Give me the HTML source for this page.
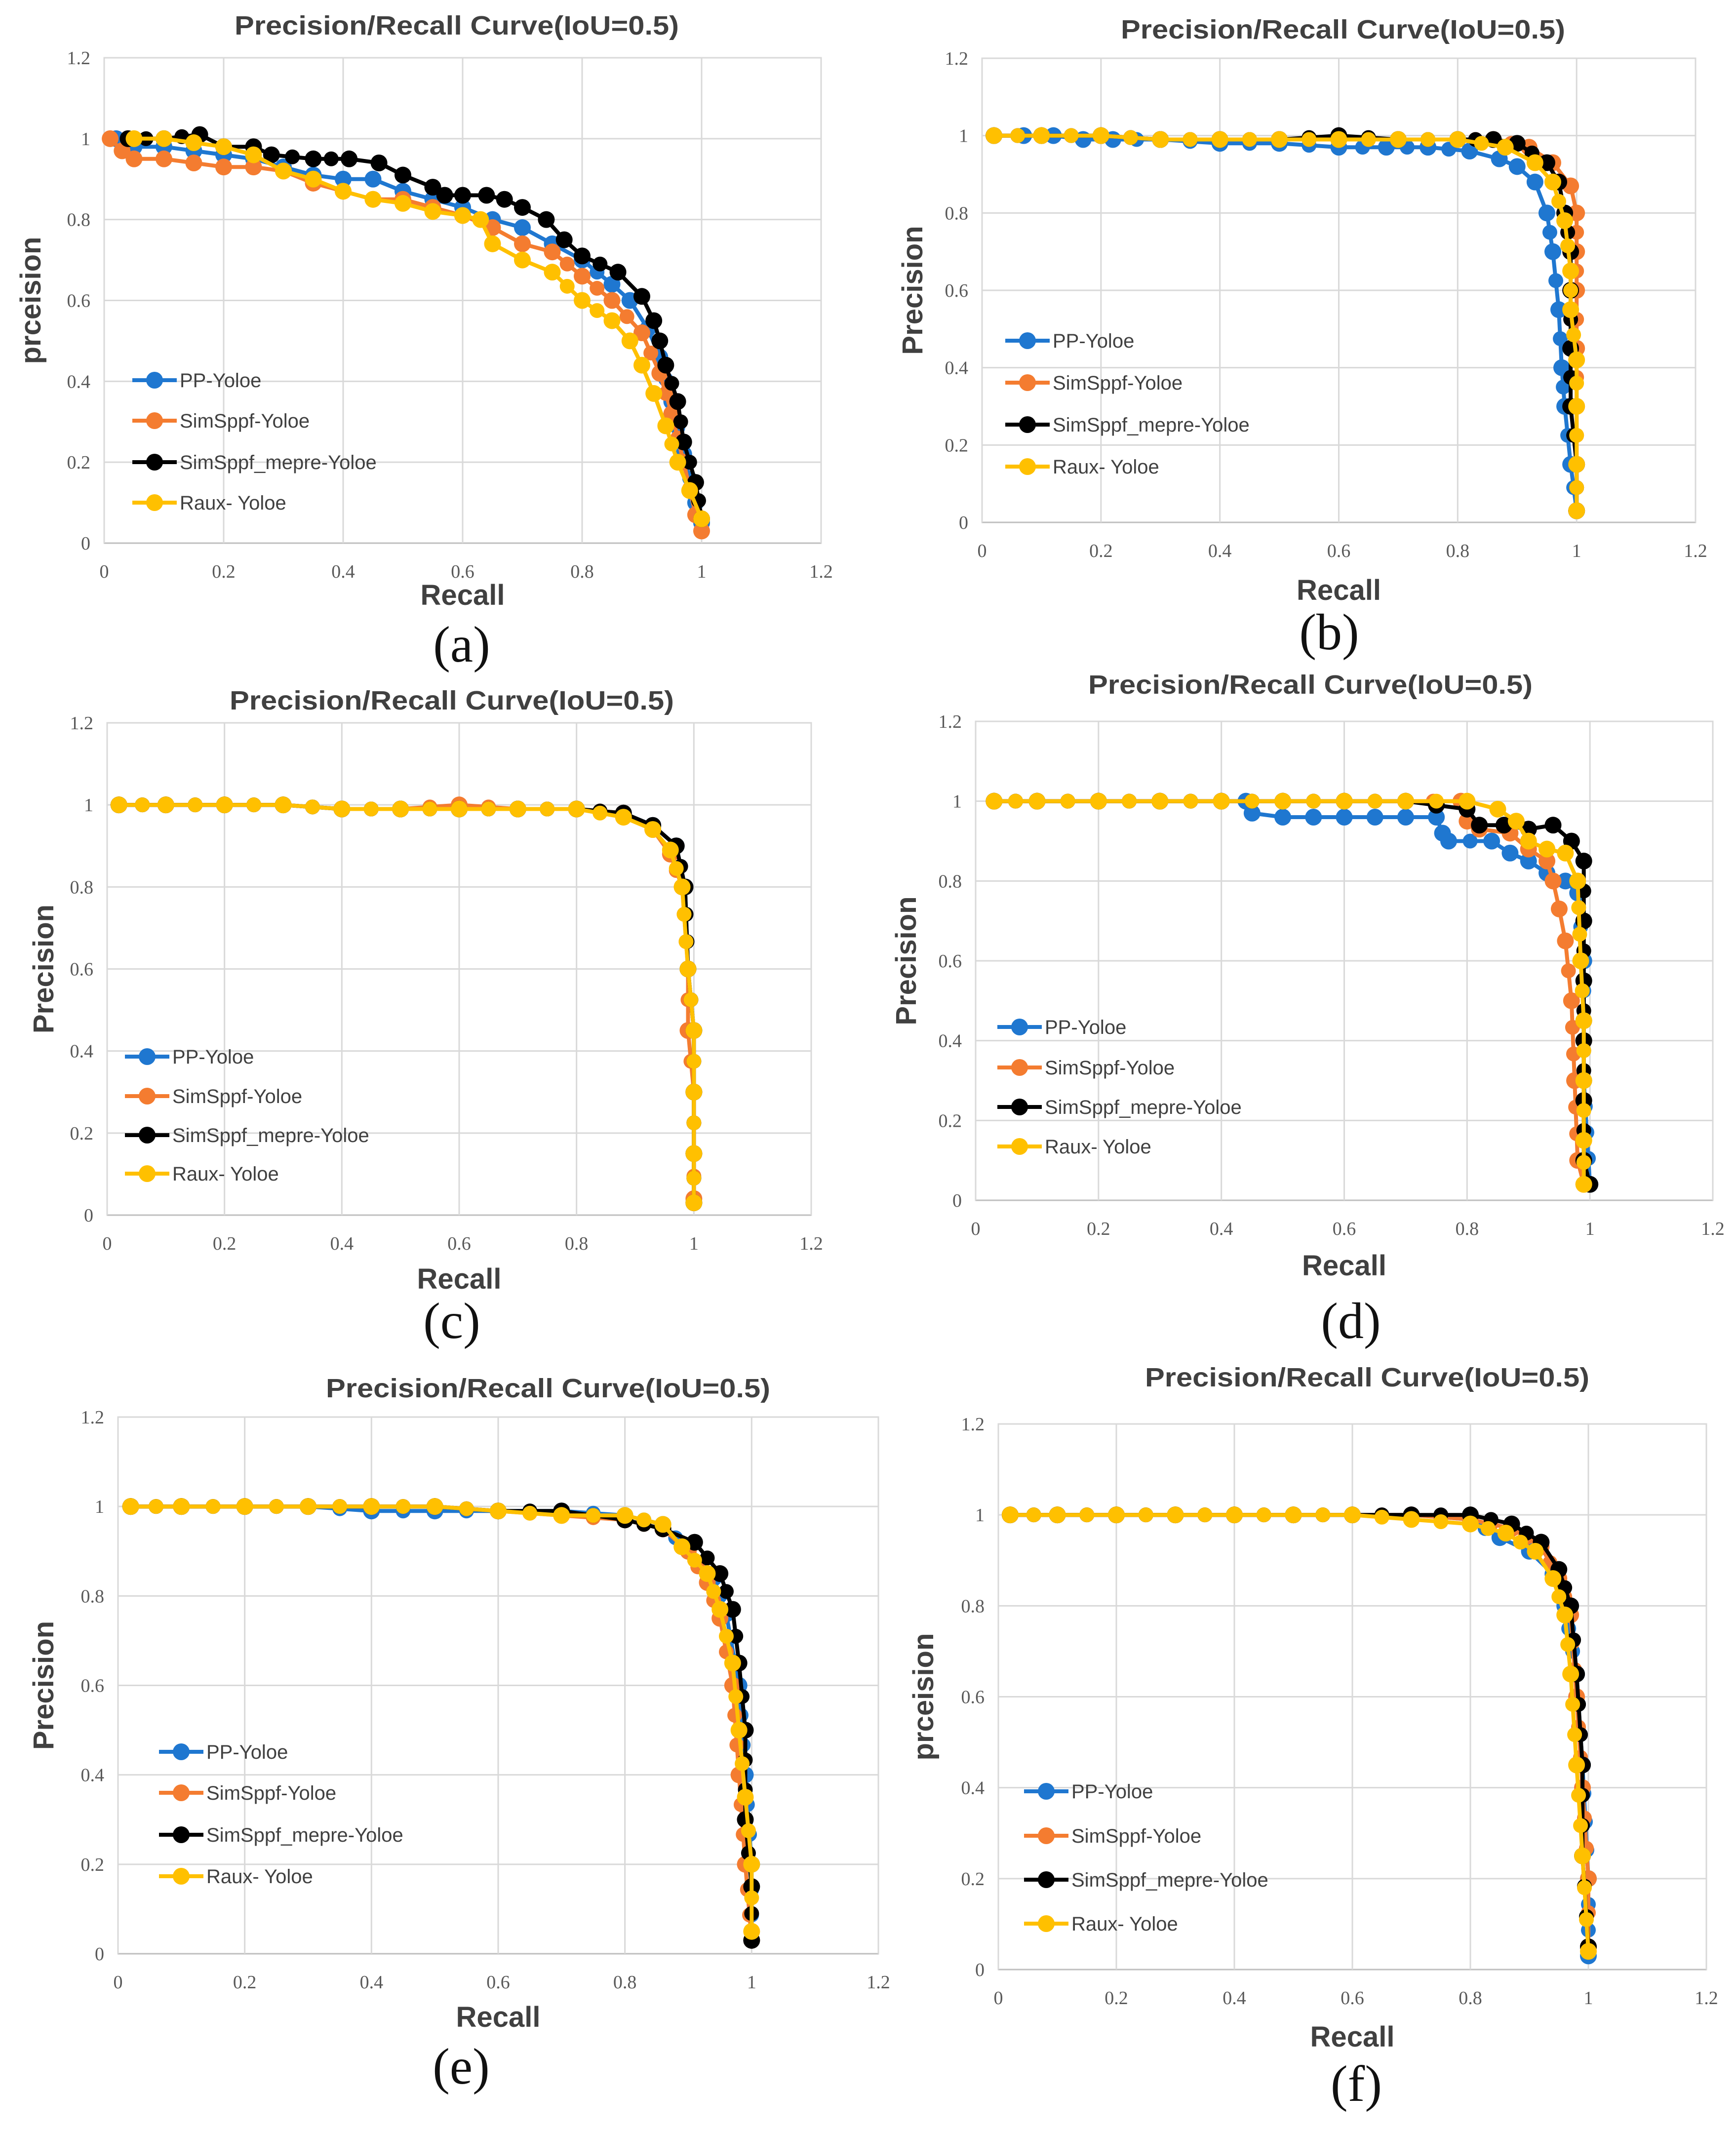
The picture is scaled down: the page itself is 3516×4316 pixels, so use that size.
<!DOCTYPE html>
<html><head><meta charset="utf-8">
<style>
html,body{margin:0;padding:0;background:#fff;}
svg{display:block;}
</style></head>
<body>
<svg id="fig" width="3516" height="4316" viewBox="0 0 3516 4316" xmlns="http://www.w3.org/2000/svg" font-family="Liberation Sans, sans-serif"></svg>
<script>
// ---- data (recall, precision) per panel & series ----
const xTicks = [0, 0.2, 0.4, 0.6, 0.8, 1, 1.2];
const yTicks = [0, 0.2, 0.4, 0.6, 0.8, 1, 1.2];
const seriesNames = ["PP-Yoloe", "SimSppf-Yoloe", "SimSppf_mepre-Yoloe", "Raux- Yoloe"];
const seriesColors = ["#1f77d0", "#f47c30", "#000000", "#ffc000"];

const a_pp = [[0.02,1],[0.05,0.98],[0.1,0.98],[0.15,0.97],[0.2,0.96],[0.25,0.95],[0.3,0.93],[0.35,0.91],[0.4,0.9],[0.45,0.9],[0.5,0.87],[0.55,0.85],[0.6,0.83],[0.65,0.8],[0.7,0.78],[0.75,0.74],[0.8,0.7],[0.85,0.64],[0.88,0.6],[0.91,0.53],[0.93,0.46],[0.95,0.35],[0.97,0.22],[0.99,0.1],[1.0,0.05]];
const a_sim = [[0.01,1],[0.03,0.97],[0.05,0.95],[0.1,0.95],[0.15,0.94],[0.2,0.93],[0.25,0.93],[0.3,0.92],[0.35,0.89],[0.4,0.87],[0.45,0.85],[0.5,0.85],[0.55,0.83],[0.6,0.81],[0.65,0.78],[0.7,0.74],[0.75,0.72],[0.8,0.66],[0.85,0.6],[0.9,0.52],[0.93,0.42],[0.95,0.32],[0.97,0.2],[0.99,0.07],[1.0,0.03]];
const a_mep = [[0.04,1],[0.1,1],[0.16,1.01],[0.2,0.98],[0.25,0.98],[0.28,0.96],[0.35,0.95],[0.41,0.95],[0.46,0.94],[0.5,0.91],[0.55,0.88],[0.57,0.86],[0.6,0.86],[0.64,0.86],[0.67,0.85],[0.7,0.83],[0.74,0.8],[0.77,0.75],[0.8,0.71],[0.86,0.67],[0.9,0.61],[0.92,0.55],[0.93,0.5],[0.94,0.44],[0.96,0.35],[0.97,0.25],[0.99,0.15],[1.0,0.06]];
const a_raux = [[0.05,1],[0.1,1],[0.15,0.99],[0.2,0.98],[0.25,0.96],[0.3,0.92],[0.35,0.9],[0.4,0.87],[0.45,0.85],[0.5,0.84],[0.55,0.82],[0.6,0.81],[0.63,0.8],[0.65,0.74],[0.7,0.7],[0.75,0.67],[0.8,0.6],[0.85,0.55],[0.88,0.5],[0.9,0.44],[0.92,0.37],[0.94,0.29],[0.96,0.2],[0.98,0.13],[1.0,0.06]];

const b_pp = [[0.02,1],[0.07,1],[0.12,1],[0.17,0.99],[0.22,0.99],[0.3,0.99],[0.4,0.98],[0.5,0.98],[0.6,0.97],[0.68,0.97],[0.75,0.97],[0.82,0.96],[0.87,0.94],[0.9,0.92],[0.93,0.88],[0.95,0.8],[0.96,0.7],[0.97,0.55],[0.975,0.4],[0.98,0.3],[0.99,0.15],[1.0,0.03]];
const b_sim = [[0.02,1],[0.1,1],[0.2,1],[0.3,0.99],[0.4,0.99],[0.5,0.99],[0.6,0.99],[0.7,0.99],[0.8,0.99],[0.86,0.99],[0.92,0.97],[0.96,0.93],[0.99,0.87],[1.0,0.8],[1.0,0.7],[1.0,0.6],[1.0,0.45],[1.0,0.3],[1.0,0.15],[1.0,0.03]];
const b_mep = [[0.02,1],[0.1,1],[0.2,1],[0.3,0.99],[0.4,0.99],[0.5,0.99],[0.6,1],[0.7,0.99],[0.8,0.99],[0.86,0.99],[0.9,0.98],[0.95,0.93],[0.97,0.88],[0.98,0.8],[0.99,0.7],[0.99,0.6],[0.99,0.45],[0.99,0.3],[1.0,0.15],[1.0,0.03]];
const b_raux = [[0.02,1],[0.1,1],[0.2,1],[0.3,0.99],[0.4,0.99],[0.5,0.99],[0.6,0.99],[0.7,0.99],[0.8,0.99],[0.88,0.97],[0.93,0.93],[0.96,0.88],[0.98,0.78],[0.99,0.65],[0.99,0.55],[1.0,0.42],[1.0,0.3],[1.0,0.15],[1.0,0.03]];

const c_pp = [[0.02,1],[0.1,1],[0.2,1],[0.3,1],[0.4,0.99],[0.5,0.99],[0.6,0.99],[0.7,0.99],[0.8,0.99],[0.88,0.98],[0.93,0.95],[0.97,0.9],[0.985,0.8],[0.99,0.6],[1.0,0.45],[1.0,0.3],[1.0,0.15],[1.0,0.03]];
const c_sim = [[0.02,1],[0.1,1],[0.2,1],[0.3,1],[0.4,0.99],[0.5,0.99],[0.6,1],[0.7,0.99],[0.8,0.99],[0.88,0.98],[0.93,0.94],[0.96,0.88],[0.98,0.8],[0.99,0.6],[0.99,0.45],[1.0,0.3],[1.0,0.15],[1.0,0.04]];
const c_mep = [[0.02,1],[0.1,1],[0.2,1],[0.3,1],[0.4,0.99],[0.5,0.99],[0.6,0.99],[0.7,0.99],[0.8,0.99],[0.88,0.98],[0.93,0.95],[0.97,0.9],[0.985,0.8],[0.99,0.6],[1.0,0.45],[1.0,0.3],[1.0,0.15],[1.0,0.03]];
const c_raux = [[0.02,1],[0.1,1],[0.2,1],[0.3,1],[0.4,0.99],[0.5,0.99],[0.6,0.99],[0.7,0.99],[0.8,0.99],[0.88,0.97],[0.93,0.94],[0.96,0.89],[0.98,0.8],[0.99,0.6],[1.0,0.45],[1.0,0.3],[1.0,0.15],[1.0,0.03]];

const d_pp = [[0.03,1],[0.1,1],[0.2,1],[0.3,1],[0.4,1],[0.44,1],[0.45,0.97],[0.5,0.96],[0.55,0.96],[0.6,0.96],[0.65,0.96],[0.7,0.96],[0.75,0.96],[0.76,0.92],[0.77,0.9],[0.84,0.9],[0.87,0.87],[0.9,0.85],[0.93,0.82],[0.96,0.8],[0.98,0.77],[0.99,0.6],[0.99,0.45],[0.99,0.3],[1.0,0.04]];
const d_sim = [[0.03,1],[0.1,1],[0.2,1],[0.3,1],[0.4,1],[0.5,1],[0.6,1],[0.7,1],[0.79,1],[0.8,0.95],[0.82,0.93],[0.87,0.92],[0.9,0.88],[0.93,0.85],[0.94,0.8],[0.95,0.73],[0.96,0.65],[0.97,0.5],[0.975,0.3],[0.98,0.1],[0.99,0.04]];
const d_mep = [[0.03,1],[0.1,1],[0.2,1],[0.3,1],[0.4,1],[0.5,1],[0.6,1],[0.7,1],[0.75,0.99],[0.8,0.98],[0.82,0.94],[0.86,0.94],[0.9,0.93],[0.94,0.94],[0.97,0.9],[0.99,0.85],[0.99,0.7],[0.99,0.55],[0.99,0.4],[0.99,0.25],[0.99,0.1],[1.0,0.04]];
const d_raux = [[0.03,1],[0.1,1],[0.2,1],[0.3,1],[0.4,1],[0.5,1],[0.6,1],[0.7,1],[0.8,1],[0.85,0.98],[0.88,0.95],[0.9,0.9],[0.93,0.88],[0.96,0.87],[0.98,0.8],[0.985,0.6],[0.99,0.45],[0.99,0.3],[0.99,0.15],[0.99,0.04]];

const e_pp = [[0.02,1],[0.1,1],[0.2,1],[0.3,1],[0.4,0.99],[0.5,0.99],[0.6,0.99],[0.7,0.99],[0.8,0.98],[0.86,0.96],[0.9,0.9],[0.94,0.84],[0.96,0.76],[0.98,0.6],[0.99,0.4],[1.0,0.2],[1.0,0.03]];
const e_sim = [[0.02,1],[0.1,1],[0.2,1],[0.3,1],[0.4,1],[0.5,1],[0.6,0.99],[0.7,0.98],[0.8,0.97],[0.86,0.95],[0.9,0.9],[0.93,0.83],[0.95,0.75],[0.97,0.6],[0.98,0.4],[0.99,0.2],[1.0,0.03]];
const e_mep = [[0.02,1],[0.1,1],[0.2,1],[0.3,1],[0.4,1],[0.5,1],[0.6,0.99],[0.7,0.99],[0.8,0.97],[0.86,0.95],[0.91,0.92],[0.95,0.85],[0.97,0.77],[0.98,0.65],[0.99,0.5],[0.99,0.3],[1.0,0.15],[1.0,0.03]];
const e_raux = [[0.02,1],[0.1,1],[0.2,1],[0.3,1],[0.4,1],[0.5,1],[0.6,0.99],[0.7,0.98],[0.8,0.98],[0.86,0.96],[0.89,0.91],[0.93,0.85],[0.95,0.77],[0.97,0.65],[0.98,0.5],[0.99,0.35],[1.0,0.2],[1.0,0.05]];

const f_pp = [[0.02,1],[0.1,1],[0.2,1],[0.3,1],[0.4,1],[0.5,1],[0.6,1],[0.7,1],[0.8,0.99],[0.85,0.95],[0.9,0.92],[0.94,0.87],[0.96,0.8],[0.98,0.65],[0.99,0.45],[1.0,0.2],[1.0,0.03]];
const f_sim = [[0.02,1],[0.1,1],[0.2,1],[0.3,1],[0.4,1],[0.5,1],[0.6,1],[0.7,1],[0.8,0.99],[0.87,0.97],[0.92,0.93],[0.95,0.86],[0.97,0.78],[0.98,0.6],[0.99,0.4],[1.0,0.2],[1.0,0.05]];
const f_mep = [[0.02,1],[0.1,1],[0.2,1],[0.3,1],[0.4,1],[0.5,1],[0.6,1],[0.7,1],[0.8,1],[0.87,0.98],[0.92,0.94],[0.95,0.88],[0.97,0.8],[0.98,0.65],[0.99,0.45],[0.99,0.25],[1.0,0.05]];
const f_raux = [[0.02,1],[0.1,1],[0.2,1],[0.3,1],[0.4,1],[0.5,1],[0.6,1],[0.7,0.99],[0.8,0.98],[0.86,0.96],[0.91,0.92],[0.94,0.86],[0.96,0.78],[0.97,0.65],[0.98,0.45],[0.99,0.25],[1.0,0.04]];

// ---- layout (pixel geometry, not data) ----
const panels = [
 {id:"a", series:[a_pp,a_sim,a_mep,a_raux], x0:211,x1:1663,y1:117,y0:1100, ylab:"prceision", titleY:70, titleX:925, yLabX:62, recY:1225, legX:268, legY:[770,852,936,1018], panY:1340, panX:935},
 {id:"b", series:[b_pp,b_sim,b_mep,b_raux], x0:1989,x1:3434,y1:118,y0:1058, ylab:"Precision", titleY:78, titleX:2720, yLabX:1848, recY:1215, legX:2036, legY:[690,775,860,945], panY:1315, panX:2692},
 {id:"c", series:[c_pp,c_sim,c_mep,c_raux], x0:217,x1:1643,y1:1464,y0:2461, ylab:"Precision", titleY:1437, titleX:915, yLabX:88, recY:2610, legX:253, legY:[2140,2220,2299,2377], panY:2710, panX:915},
 {id:"d", series:[d_pp,d_sim,d_mep,d_raux], x0:1976,x1:3469,y1:1461,y0:2431, ylab:"Precision", titleY:1405, titleX:2654, yLabX:1835, recY:2583, legX:2020, legY:[2080,2162,2242,2322], panY:2710, panX:2736},
 {id:"e", series:[e_pp,e_sim,e_mep,e_raux], x0:239,x1:1779,y1:2870,y0:3957, ylab:"Precision", titleY:2830, titleX:1110, yLabX:88, recY:4105, legX:322, legY:[3548,3631,3716,3800], panY:4220, panX:934},
 {id:"f", series:[f_pp,f_sim,f_mep,f_raux], x0:2022,x1:3456,y1:2884,y0:3989, ylab:"prceision", titleY:2808, titleX:2769, yLabX:1870, recY:4145, legX:2074, legY:[3628,3718,3807,3896], panY:4255, panX:2747}
];

const NS = "http://www.w3.org/2000/svg";
const svg = document.getElementById("fig");
function mk(tag, attrs, parent){
  const e = document.createElementNS(NS, tag);
  for (const k in attrs) e.setAttribute(k, attrs[k]);
  parent.appendChild(e);
  return e;
}

panels.forEach(p => {
  const g = mk("g", {}, svg);
  
  
  const xs = v => p.x0 + (v / 1.2) * (p.x1 - p.x0);
  const ys = v => p.y0 - (v / 1.2) * (p.y0 - p.y1);

  const frame = mk("rect", {x:p.x0, y:p.y1, width:p.x1-p.x0, height:p.y0-p.y1, fill:"none", stroke:"#d9d9d9", "stroke-width":3}, g);
  
  

  yTicks.forEach(t => {
    const ln = mk("line", {x1:p.x0, x2:p.x1, y1:ys(t), y2:ys(t), stroke: t===0 ? "#bfbfbf" : "#d9d9d9", "stroke-width":3}, g);
    
    
    const tx = mk("text", {x:p.x0-28, y:ys(t)+13, "text-anchor":"end", "font-size":38, fill:"#595959", "font-family":"Liberation Serif, serif"}, g);
    tx.textContent = String(t);
    
    
  });
  xTicks.forEach(t => {
    const ln = mk("line", {x1:xs(t), x2:xs(t), y1:p.y1, y2:p.y0, stroke:"#d9d9d9", "stroke-width":3}, g);
    
    
    const tx = mk("text", {x:xs(t), y:p.y0+70, "text-anchor":"middle", "font-size":38, fill:"#595959", "font-family":"Liberation Serif, serif"}, g);
    tx.textContent = String(t);
    
    
  });

  const title = mk("text", {x:p.titleX, y:p.titleY, "text-anchor":"middle", "font-size":54, "font-weight":"bold", fill:"#404040", textLength:900, lengthAdjust:"spacingAndGlyphs"}, g);
  title.textContent = "Precision/Recall Curve(IoU=0.5)";
  
  

  const rec = mk("text", {x:(p.x0+p.x1)/2, y:p.recY, "text-anchor":"middle", "font-size":58, "font-weight":"bold", fill:"#404040"}, g);
  rec.textContent = "Recall";
  
  
  const yc = (p.y0+p.y1)/2;
  const yl = mk("text", {x:p.yLabX, y:yc, "text-anchor":"middle", "font-size":58, "font-weight":"bold", fill:"#404040", transform:`rotate(-90 ${p.yLabX} ${yc})`, dy:"20"}, g);
  yl.textContent = p.ylab;
  
  

  p.series.forEach((data, si) => {
    const sg = mk("g", {}, g);
    
    
    const px = data.map(d => [xs(d[0]), ys(d[1])]);
    const pts = px.map(q => q[0].toFixed(1) + "," + q[1].toFixed(1)).join(" ");
    const pl = mk("polyline", {points:pts, fill:"none", stroke:seriesColors[si], "stroke-width":8, "stroke-linejoin":"round"}, sg);
    
    
    px.forEach((q, i) => {
      const c = mk("circle", {cx:q[0], cy:q[1], r:17, fill:seriesColors[si]}, sg);
      
      
      if (i < px.length - 1) {
        const n = px[i+1], L = Math.hypot(n[0]-q[0], n[1]-q[1]);
        const k = Math.floor(L / 70);
        for (let j = 1; j <= k; j++) {
          const f = j / (k + 1);
          const m = mk("circle", {cx:q[0]+(n[0]-q[0])*f, cy:q[1]+(n[1]-q[1])*f, r:15, fill:seriesColors[si]}, sg);
          
          
        }
      }
    });
  });

  seriesNames.forEach((nm, si) => {
    const lg = mk("g", {}, g);
    
    
    const y = p.legY[si];
    mk("line", {x1:p.legX, x2:p.legX+90, y1:y, y2:y, stroke:seriesColors[si], "stroke-width":8}, lg);
    mk("circle", {cx:p.legX+45, cy:y, r:17, fill:seriesColors[si]}, lg);
    const t = mk("text", {x:p.legX+96, y:y+14, "font-size":40, fill:"#404040"}, lg);
    t.textContent = nm;
  });

  const pl = mk("text", {x:p.panX, y:p.panY, "text-anchor":"middle", "font-size":104, fill:"#111", "font-family":"Liberation Serif, serif"}, g);
  pl.textContent = "(" + p.id + ")";
  
  
});
</script>
</body></html>
